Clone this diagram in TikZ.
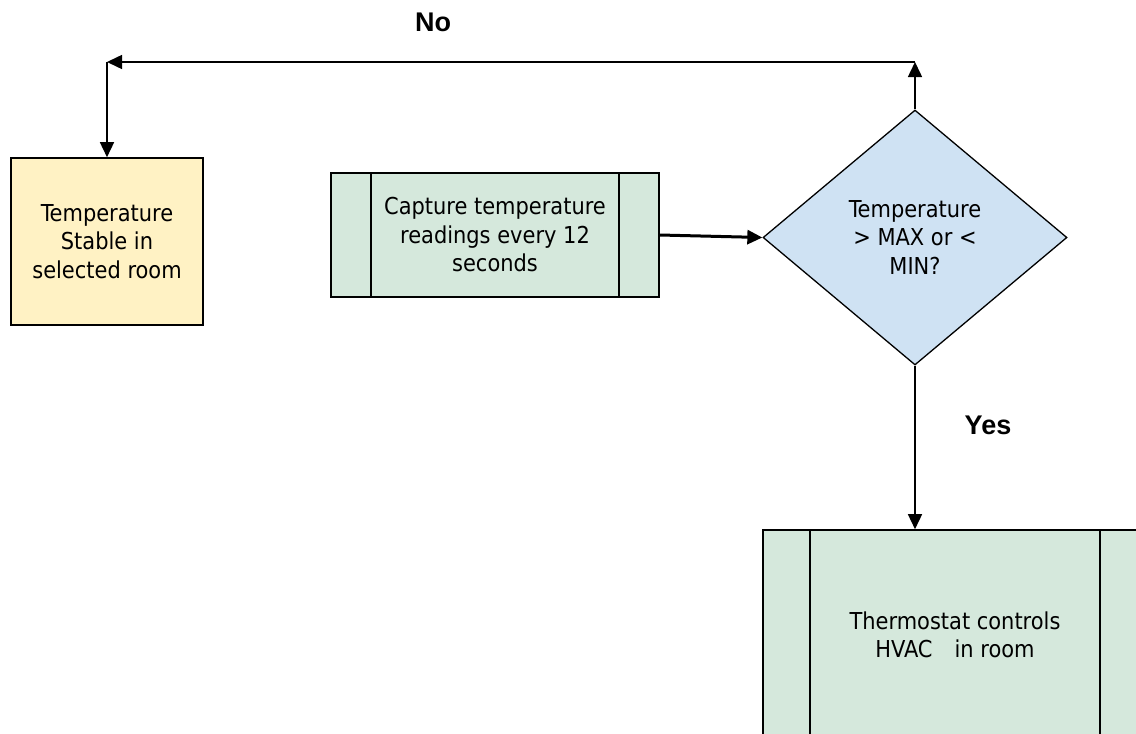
\documentclass[tikz,border=0pt]{standalone}
\usepackage{fontspec}
\setmainfont{DejaVu Sans Condensed}
\newfontfamily\labelfont{Liberation Sans}
\usetikzlibrary{shapes.geometric,arrows.meta}
\definecolor{stableyellow}{HTML}{FFF2C4}
\definecolor{procgreen}{HTML}{D5E8DC}
\definecolor{decblue}{HTML}{CFE2F3}
\tikzset{
  boxtext/.style={font=\fontsize{23.3}{28.5}\selectfont, align=center, text=black},
  stablebox/.style={boxtext, draw, line width=1.6pt, fill=stableyellow, inner sep=0pt},
  procbox/.style={boxtext, draw, line width=1.6pt, fill=procgreen, inner sep=0pt},
  decision/.style={boxtext, draw, line width=1.3pt, fill=decblue, diamond, inner sep=0pt},
  flow/.style={line width=1.5pt, -{Triangle[length=15pt,width=14pt]}},
  divider/.style={line width=1.6pt},
  branch/.style={font=\labelfont\bfseries\fontsize{27}{30}\selectfont},
}
\begin{document}
\begin{tikzpicture}[x=1pt,y=-1pt]
\useasboundingbox (0,0) rectangle (1136,734);
\begin{scope}
\clip (0,0) rectangle (1136,734);

% temperature stable
\node[stablebox, minimum width=192pt, minimum height=167pt] (stable) at (107,241.5)
  {Temperature\\Stable in\\selected room};

% capture readings (predefined process)
\node[procbox, minimum width=328pt, minimum height=124pt] (capture) at (495,235)
  {Capture temperature\\readings every 12\\seconds};
\draw[divider] ([xshift=41pt]capture.north west) -- ([xshift=41pt]capture.south west);
\draw[divider] ([xshift=-41pt]capture.north east) -- ([xshift=-41pt]capture.south east);

% decision
\node[decision, minimum width=304pt, minimum height=255pt] (check) at (915,237.5)
  {Temperature\\> MAX or <\\MIN?};

% thermostat controls HVAC (predefined process)
\node[procbox, minimum width=384pt, minimum height=210pt] (hvac) at (955,635)
  {Thermostat controls\\HVAC\hspace{22pt}in room};
\draw[divider] ([xshift=48pt]hvac.north west) -- ([xshift=48pt]hvac.south west);
\draw[divider] ([xshift=-48pt]hvac.north east) -- ([xshift=-48pt]hvac.south east);

% connectors
\coordinate (upright) at (check.north |- 0,62);
\coordinate (upleft) at (stable.north |- 0,62);
\draw[flow, line width=3pt] (capture.east) -- (check.west);
\draw[flow] (check.north) -- (upright);
\draw[flow] (upright) -- (upleft);
\draw[flow] (upleft) -- (stable.north);
\draw[flow] (check.south) -- (check.south |- hvac.north);

% branch labels
\node[branch] (no) at (433,22) {No};
\node[branch] (yes) at (988,425) {Yes};
\end{scope}
\end{tikzpicture}
\end{document}
